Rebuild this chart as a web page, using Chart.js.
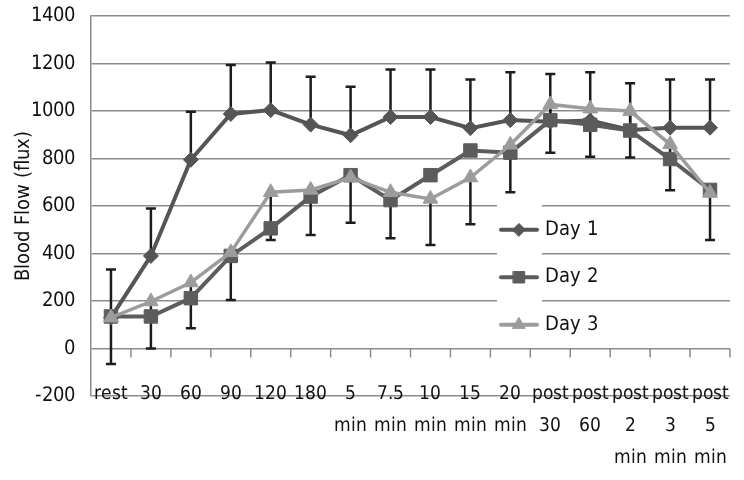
<!DOCTYPE html>
<html><head><meta charset="utf-8">
<script src="https://cdn.jsdelivr.net/npm/chart.js@4/dist/chart.umd.min.js"></script>
<style>
html,body{margin:0;padding:0;background:#fff}
@font-face{font-family:'NarrowX';src:local('Liberation Sans Narrow'),local('LiberationSansNarrow-Regular'),local('DejaVu Sans Condensed'),local('DejaVuSansCondensed');}
</style>
</head><body>
<canvas id="c" width="744" height="480"></canvas>
<script>
const categories = [['rest'], ['30'], ['60'], ['90'], ['120'], ['180'], ['5', 'min'], ['7.5', 'min'], ['10', 'min'], ['15', 'min'], ['20', 'min'], ['post', '30'], ['post', '60'], ['post', '2', 'min'], ['post', '3', 'min'], ['post', '5', 'min']];
const day1 = [130, 390, 795, 988, 1004, 943, 898, 975, 975, 928, 962, 955, 960, 920, 930, 930];
const day1Err = [203, 200, 202, 206, 201, 202, 204, 200, 200, 205, 201, 201, 203, 197, 203, 203];
const day2 = [135, 135, 212, 390, 506, 640, 730, 625, 730, 834, 825, 962, 942, 918, 798, 668];
const day3 = [130, 198, 278, 405, 658, 668, 720, 658, 630, 720, 858, 1028, 1010, 1000, 860, 655];
const day3Err = [195, 198, 193, 201, 201, 190, 190, 194, 194, 197, 200, 204, 202, 196, 193, 198];
const seriesNames = ['Day 1', 'Day 2', 'Day 3'];
const yTicksMin = -200, yTicksMax = 1400, yTicksStep = 200;

const FONT = "NarrowX, 'Liberation Sans', Arial, sans-serif";
const C1 = '#555555', C2 = '#5c5c5c', C3 = '#9c9c9c';
const GRID = '#8c8c8c';
const styles = [
  {color: C1, pointStyle: 'rectRot', radius: 7.5, width: 4},
  {color: C2, pointStyle: 'rect', radius: 9.5, width: 4},
  {color: C3, pointStyle: 'triangle', radius: 8.5, width: 3.5}
];

const errorBars = {
  id: 'errorBars',
  beforeDatasetsDraw(chart) {
    const {ctx, scales: {x, y}} = chart;
    ctx.save();
    ctx.strokeStyle = '#1c1c1c';
    ctx.lineWidth = 2.5;
    const cap = 5;
    const draw = (vals, errs, dir) => vals.forEach((v, i) => {
      const px = x.getPixelForValue(i);
      const y0 = y.getPixelForValue(v), y1 = y.getPixelForValue(v + dir * errs[i]);
      ctx.beginPath();
      ctx.moveTo(px, y0); ctx.lineTo(px, y1);
      ctx.moveTo(px - cap, y1); ctx.lineTo(px + cap, y1);
      ctx.stroke();
    });
    draw(day1, day1Err, 1);
    draw(day3, day3Err, -1);
    const y0 = y.getPixelForValue(0);
    const step = x.width / categories.length;
    ctx.strokeStyle = GRID; ctx.lineWidth = 1.5;
    for (let i = 0; i < categories.length; i++) {
      const bx = x.getPixelForValue(i) + step / 2;
      ctx.beginPath(); ctx.moveTo(bx, y0); ctx.lineTo(bx, y0 + 9); ctx.stroke();
    }
    ctx.restore();
  }
};

const legendInside = {
  id: 'legendInside',
  afterDraw(chart) {
    const {ctx, chartArea, scales: {y}} = chart;
    const x0 = chartArea.left + 406;
    ctx.save();
    ctx.fillStyle = '#fff';
    const top = y.getPixelForValue(650), bot = y.getPixelForValue(40);
    ctx.fillRect(x0, top, 45, bot - top);
    const mids = [500, 300, 100];
    seriesNames.forEach((name, i) => {
      const s = styles[i];
      const yy = y.getPixelForValue(mids[i]);
      ctx.strokeStyle = s.color; ctx.lineWidth = 4; ctx.lineCap = 'round';
      ctx.beginPath(); ctx.moveTo(x0 + 4, yy); ctx.lineTo(x0 + 40, yy); ctx.stroke();
      ctx.fillStyle = s.color; ctx.lineWidth = 1;
      Chart.helpers.drawPoint(ctx, {pointStyle: s.pointStyle, radius: s.radius * 0.85, borderWidth: 1, rotation: 0}, x0 + 22, yy);
      ctx.fillStyle = '#111';
      ctx.font = '20px ' + FONT;
      ctx.textBaseline = 'middle'; ctx.textAlign = 'left';
      ctx.fillText(name, x0 + 48, yy);
    });
    ctx.restore();
  }
};

function build() {
  const data = {
    labels: categories,
    datasets: [day1, day2, day3].map((d, i) => ({
      label: seriesNames[i],
      data: d,
      borderColor: styles[i].color,
      backgroundColor: styles[i].color,
      pointBackgroundColor: styles[i].color,
      pointBorderColor: styles[i].color,
      borderWidth: styles[i].width,
      pointStyle: styles[i].pointStyle,
      pointRadius: styles[i].radius,
      pointBorderWidth: 1,
      tension: 0,
      order: 3 - i
    }))
  };

  new Chart(document.getElementById('c'), {
    type: 'line',
    data,
    options: {
      responsive: false,
      devicePixelRatio: 1,
      animation: false,
      layout: {autoPadding: false, padding: {top: 0, right: 14, bottom: 0, left: 0}},
      plugins: {legend: {display: false}, tooltip: {enabled: false}},
      scales: {
        x: {
          offset: true,
          grid: {display: false, drawTicks: false, offset: true},
          border: {display: false},
          ticks: {
            autoSkip: false, maxRotation: 0, minRotation: 0, mirror: true,
            color: '#111', padding: -14,
            font: {family: FONT, size: 19, lineHeight: 1.68}
          },
          afterFit(s) { s.height = 84; }
        },
        y: {
          min: yTicksMin, max: yTicksMax,
          grid: {color: GRID, lineWidth: 1.5, drawTicks: false},
          border: {display: true, color: GRID, width: 1.5},
          ticks: {
            stepSize: yTicksStep, color: '#111', padding: 16,
            font: {family: FONT, size: 20, lineHeight: 0.01},
            callback: (v) => String(v)
          },
          title: {
            display: true, text: 'Blood Flow (flux)', color: '#111',
            font: {family: FONT, size: 20, lineHeight: 1.2},
            padding: {top: 12, bottom: 0}
          },
          afterFit(s) { s.width = 91; }
        }
      }
    },
    plugins: [errorBars, legendInside]
  });
}

(document.fonts ? document.fonts.load('20px NarrowX').catch(() => {}) : Promise.resolve()).then(build, build);
</script>
</body></html>
